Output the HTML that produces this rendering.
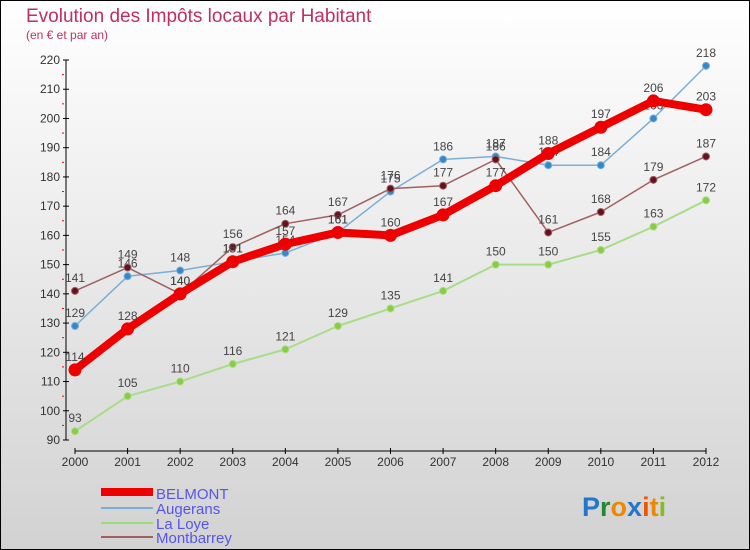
<!DOCTYPE html>
<html><head><meta charset="utf-8"><style>
body{margin:0}
#c{width:750px;height:550px;position:relative;overflow:hidden;font-family:"Liberation Sans",sans-serif}
</style></head><body>
<div id="c">
<svg id="s" width="750" height="550" xmlns="http://www.w3.org/2000/svg">
<defs><linearGradient id="bg" x1="0" y1="0" x2="0" y2="1"><stop offset="0" stop-color="#ffffff"/><stop offset="1" stop-color="#d2d2d2"/></linearGradient></defs>
<rect x="0.5" y="0.5" width="749" height="549" fill="url(#bg)" stroke="#000"/>
<text x="26" y="22" font-size="19" fill="#c0305c">Evolution des Impôts locaux par Habitant</text>
<text x="26" y="39" font-size="12" fill="#c0305c">(en € et par an)</text>
<g id="axes"></g><g id="series"></g>
<g>
<rect x="101" y="488" width="52" height="8" fill="#e00"/>
<text x="156" y="499" font-size="15" fill="#5555ee">BELMONT</text>
<line x1="101" y1="508" x2="153" y2="508" stroke="#7aaed6" stroke-width="2"/>
<text x="156" y="514" font-size="15" fill="#5555ee">Augerans</text>
<line x1="101" y1="523" x2="153" y2="523" stroke="#99dd77" stroke-width="2"/>
<text x="156" y="529" font-size="15" fill="#5555ee">La Loye</text>
<line x1="101" y1="537" x2="153" y2="537" stroke="#a06060" stroke-width="2"/>
<text x="156" y="543" font-size="15" fill="#5555ee">Montbarrey</text>
</g>
<text x="582" y="516" font-size="27" font-weight="bold"><tspan fill="#2277cc">P</tspan><tspan fill="#228833">r</tspan><tspan fill="#ee8800">o</tspan><tspan fill="#2277cc">x</tspan><tspan fill="#ee5500">i</tspan><tspan fill="#ee8800">t</tspan><tspan fill="#88bb22">i</tspan></text>
</svg></div>
<script>
const years=["2000","2001","2002","2003","2004","2005","2006","2007","2008","2009","2010","2011","2012"];
const yTicks=[90,100,110,120,130,140,150,160,170,180,190,200,210,220];
const belmont=[114,128,140,151,157,161,160,167,177,188,197,206,203];
const augerans=[129,146,148,151,154,161,175,186,187,184,184,200,218];
const laLoye=[93,105,110,116,121,129,135,141,150,150,155,163,172];
const montbarrey=[141,149,140,156,164,167,176,177,186,161,168,179,187];
const NS="http://www.w3.org/2000/svg";
function X(i){return 75+i*(706-75)/(years.length-1);}
function Y(v){return 440-(v-90)*(380/130);}
function mk(t,a,p){const e=document.createElementNS(NS,t);for(const k in a)e.setAttribute(k,a[k]);p.appendChild(e);return e;}
const ax=document.getElementById('axes'),sg=document.getElementById('series');
let l=mk('line',{x1:66,y1:Y(220),x2:66,y2:Y(90),stroke:'#000'},ax);


l=mk('line',{x1:75,y1:451,x2:706,y2:451,stroke:'#000'},ax);


yTicks.forEach(v=>{mk('line',{x1:63,y1:Y(v),x2:69,y2:Y(v),stroke:'#000'},ax);
 if(v<220)mk('line',{x1:62,y1:Y(v+5),x2:64,y2:Y(v+5),stroke:'#e00'},ax);
 const t=mk('text',{x:60,y:Y(v)+4,'font-size':12,fill:'#333','text-anchor':'end'},ax);t.textContent=v;
 
 });
years.forEach((y,i)=>{mk('line',{x1:X(i),y1:448,x2:X(i),y2:454,stroke:'#000'},ax);
 const t=mk('text',{x:X(i),y:466,'font-size':12,fill:'#333','text-anchor':'middle'},ax);t.textContent=y;
 
 });
function series(d,col,dot,w,r,name){
 const g=mk('g',{},sg);
 
 
 mk('polyline',{points:d.map((v,i)=>X(i)+','+Y(v)).join(' '),fill:'none',stroke:col,'stroke-width':w,'stroke-linejoin':'round'},g);
 d.forEach((v,i)=>{const c=mk('circle',{cx:X(i),cy:Y(v),r:r,fill:dot,stroke:col,'stroke-width':1},g);
  
  
  const t=mk('text',{x:X(i),y:Y(v)-9,'font-size':12,fill:'#444','text-anchor':'middle'},g);t.textContent=v;});
}
series(laLoye,'#a8dd88','#88cc44',2,3.5,'la-loye');
series(augerans,'#7aaed6','#3388cc',1.5,3.5,'augerans');
series(montbarrey,'#a06060','#661122',1.5,3.5,'montbarrey');
series(belmont,'#ee0000','#ee0000',8,6,'belmont');
</script>
</body></html>
